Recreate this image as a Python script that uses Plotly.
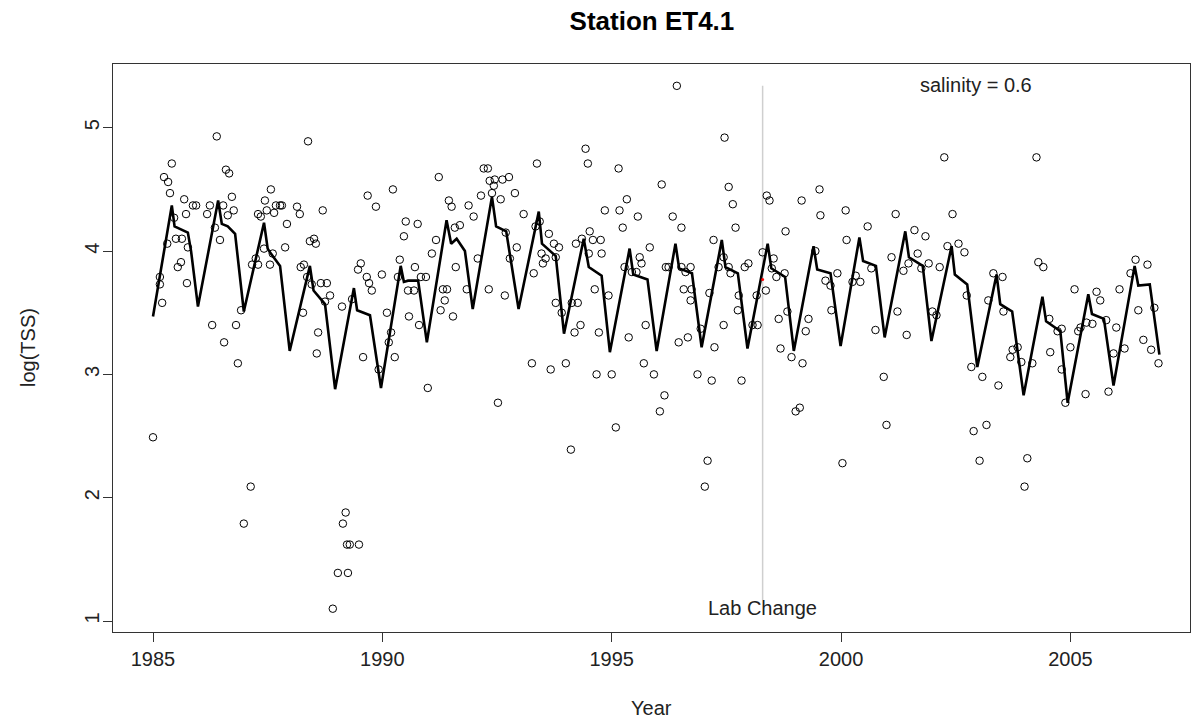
import plotly.graph_objects as go

# ---- observed log(TSS) samples ----
obs_year = [
 1985.00,1985.15,1985.15,1985.20,1985.24,1985.33,1985.37,1985.41,1985.31,1985.46,1985.50,1985.63,1985.54,1985.61,
 1985.68,1985.72,1985.74,1985.76,1985.87,1985.94,1986.18,1986.24,1986.29,1986.35,1986.39,1986.46,1986.53,1986.55,
 1986.59,1986.66,1986.63,1986.72,1986.76,1986.81,1986.92,1986.85,1986.98,1987.13,1987.16,1987.24,1987.29,1987.29,
 1987.35,1987.42,1987.44,1987.48,1987.55,1987.57,1987.61,1987.64,1987.68,1987.77,1987.81,1987.88,1987.92,1988.14,
 1988.20,1988.22,1988.38,1988.70,1988.42,1988.51,1988.55,1988.29,1988.36,1988.27,1988.46,1988.66,1988.79,1988.86,
 1988.75,1988.60,1988.57,1989.12,1989.53,1989.47,1989.66,1989.71,1989.77,1989.34,1989.68,1989.86,1990.23,1989.99,
 1990.10,1990.19,1990.14,1990.38,1990.34,1990.47,1990.51,1990.77,1990.71,1990.56,1990.69,1990.84,1990.95,1990.58,
 1990.80,1991.23,1991.08,1991.17,1991.27,1991.32,1991.41,1991.36,1991.54,1991.45,1991.51,1991.58,1991.69,1991.60,
 1991.88,1991.99,1991.84,1992.08,1992.15,1992.21,1989.58,1990.27,1989.92,1990.99,1989.20,1989.14,1989.23,1989.29,
 1989.49,1989.03,1989.25,1988.92,1992.30,1992.34,1992.45,1992.62,1992.76,1992.39,1992.43,1992.58,1992.89,1992.69,
 1992.78,1992.93,1992.32,1992.67,1993.08,1993.37,1993.43,1993.34,1993.63,1993.74,1993.85,1993.47,1993.50,1993.56,
 1993.78,1993.30,1993.78,1993.91,1994.13,1994.26,1994.32,1994.19,1994.72,1994.43,1994.48,1994.22,1994.35,1994.52,
 1994.59,1994.76,1994.50,1994.78,1994.63,1994.93,1995.15,1994.85,1995.17,1995.33,1995.24,1995.57,1995.83,1996.09,
 1995.28,1995.44,1995.54,1995.61,1995.65,1996.18,1995.74,1995.37,1992.52,1993.26,1993.67,1994.00,1994.11,1994.67,
 1995.00,1995.09,1995.70,1995.92,1996.15,1996.05,1996.42,1996.33,1996.52,1996.24,1996.52,1996.72,1996.61,1996.57,
 1996.74,1996.72,1997.46,1997.55,1997.64,1997.70,1997.22,1997.33,1997.44,1997.55,1997.59,1997.13,1997.90,1997.98,
 1997.77,1997.75,1998.16,1998.36,1998.07,1998.18,1997.44,1996.94,1996.46,1996.66,1997.24,1998.29,1998.38,1998.44,
 1998.53,1998.49,1998.59,1998.77,1998.79,1998.83,1998.64,1998.68,1999.14,1999.53,1999.55,1999.44,1999.66,1999.77,
 1999.92,1999.79,1999.29,1999.23,2000.10,2000.12,1996.87,1997.18,1997.83,1997.09,1997.03,1998.92,1999.16,1999.01,
 1999.10,2000.03,2002.25,2000.58,2000.32,2000.25,2000.42,2000.66,2001.19,2001.10,2001.36,2001.60,2001.84,2001.47,
 2001.67,2001.75,2001.91,2002.15,2001.23,2000.75,2001.43,2001.99,2002.08,2002.43,2002.32,2002.56,2002.69,2002.74,
 2003.32,2003.52,2003.21,2003.54,2003.74,2003.85,2000.93,2000.99,2002.84,2003.08,2003.43,2002.89,2003.17,2003.02,
 2003.69,2003.93,2004.06,2004.00,2004.26,2004.30,2004.41,2004.54,2004.72,2004.81,2005.00,2004.56,2005.09,2005.22,
 2005.35,2005.48,2005.17,2005.57,2005.65,2005.78,2006.00,2006.07,2006.18,2006.42,2006.31,2006.68,2006.48,2006.83,
 2006.59,2006.76,2004.17,2004.81,2004.89,2005.33,2005.94,2005.83,2006.92,
]
obs_value = [
 2.49,3.79,3.73,3.58,4.60,4.56,4.47,4.71,4.06,4.27,4.10,4.10,3.87,3.91,
 4.42,4.30,3.74,4.03,4.37,4.37,4.30,4.37,3.40,4.19,4.93,4.09,4.37,3.26,
 4.66,4.63,4.29,4.44,4.33,3.40,3.52,3.09,1.79,2.09,3.89,3.94,3.89,4.30,
 4.28,4.02,4.41,4.33,3.89,4.50,3.98,4.31,4.37,4.37,4.37,4.03,4.22,4.36,
 4.30,3.87,4.89,4.33,4.08,4.10,4.06,3.89,3.79,3.50,3.73,3.74,3.74,3.64,
 3.59,3.34,3.17,3.55,3.90,3.85,3.79,3.74,3.68,3.61,4.45,4.36,4.50,3.81,
 3.50,3.34,3.26,3.93,3.79,4.12,4.24,4.22,3.87,3.68,3.68,3.79,3.79,3.47,
 3.40,4.60,3.98,4.09,3.52,3.69,3.69,3.60,3.47,4.41,4.36,4.19,4.21,3.87,
 4.37,4.28,3.69,3.94,4.45,4.67,3.14,3.14,3.04,2.89,1.88,1.79,1.62,1.62,
 1.62,1.39,1.39,1.10,4.67,4.57,4.58,4.58,4.60,4.47,4.53,4.42,4.47,4.15,
 3.94,4.03,3.69,3.64,4.30,4.71,4.24,4.20,4.14,4.06,4.03,3.98,3.90,3.94,
 3.95,3.82,3.58,3.50,3.58,3.58,3.40,3.34,3.34,4.83,4.71,4.06,4.10,4.16,
 4.09,4.09,3.98,3.98,3.69,3.64,4.67,4.33,4.33,4.42,4.19,4.28,4.03,4.54,
 3.87,3.83,3.83,3.95,3.90,3.87,3.40,3.30,2.77,3.09,3.04,3.09,2.39,3.00,
 3.00,2.57,3.09,3.00,2.83,2.70,5.34,4.28,4.19,3.87,3.87,3.87,3.83,3.69,
 3.69,3.60,4.92,4.52,4.38,4.19,4.09,3.87,3.95,3.87,3.82,3.66,3.87,3.90,
 3.64,3.52,3.64,3.68,3.40,3.40,3.40,3.37,3.26,3.30,3.22,3.99,4.45,4.41,
 3.94,3.86,3.79,3.82,4.16,3.51,3.45,3.21,4.41,4.50,4.29,4.00,3.76,3.72,
 3.82,3.52,3.45,3.35,4.33,4.09,3.00,2.95,2.95,2.30,2.09,3.14,3.09,2.70,
 2.73,2.28,4.76,4.20,3.80,3.75,3.75,3.86,4.30,3.95,3.84,4.17,4.12,3.90,
 3.98,3.86,3.90,3.87,3.51,3.36,3.32,3.51,3.48,4.30,4.04,4.06,3.99,3.64,
 3.82,3.79,3.60,3.51,3.20,3.22,2.98,2.59,3.06,2.98,2.91,2.54,2.59,2.30,
 3.14,3.10,2.32,2.09,4.76,3.91,3.87,3.45,3.35,3.37,3.22,3.18,3.69,3.38,
 3.42,3.41,3.35,3.67,3.60,3.44,3.38,3.69,3.21,3.93,3.82,3.89,3.52,3.54,
 3.28,3.20,3.09,3.04,2.77,2.84,3.17,2.86,3.09,
]

# ---- fitted seasonal curve ----
fit_year = [
 1985.00,1985.41,1985.47,1985.59,1985.76,1985.83,1985.98,
 1986.42,1986.50,1986.63,1986.79,1986.98,
 1987.42,1987.50,1987.55,1987.77,1987.98,
 1988.42,1988.50,1988.75,1988.97,
 1989.38,1989.45,1989.73,1989.97,
 1990.40,1990.47,1990.56,1990.78,1990.97,
 1991.40,1991.50,1991.62,1991.80,1991.97,
 1992.39,1992.48,1992.70,1992.97,
 1993.41,1993.48,1993.78,1993.96,
 1994.39,1994.50,1994.78,1994.96,
 1995.39,1995.47,1995.78,1995.98,
 1996.39,1996.47,1996.75,1996.96,
 1997.40,1997.48,1997.75,1997.96,
 1998.40,1998.48,1998.78,1998.97,
 1999.40,1999.48,1999.77,1999.99,
 2000.40,2000.48,2000.76,2000.95,
 2001.40,2001.48,2001.78,2001.97,
 2002.41,2002.48,2002.75,2002.97,
 2003.39,2003.47,2003.73,2003.98,
 2004.39,2004.47,2004.78,2004.94,
 2005.39,2005.47,2005.73,2005.94,
 2006.40,2006.48,2006.73,2006.94,
]
fit_value = [
 3.47,4.37,4.20,4.18,4.15,4.00,3.55,
 4.41,4.22,4.20,4.14,3.51,
 4.23,4.02,3.99,3.88,3.19,
 3.88,3.68,3.57,2.88,
 3.70,3.52,3.48,2.89,
 3.88,3.75,3.76,3.76,3.26,
 4.25,4.06,4.10,4.00,3.53,
 4.44,4.20,4.16,3.53,
 4.32,4.06,3.96,3.33,
 4.10,3.87,3.80,3.18,
 4.02,3.81,3.77,3.19,
 4.06,3.86,3.82,3.22,
 4.09,3.87,3.82,3.21,
 4.06,3.86,3.79,3.19,
 4.04,3.85,3.82,3.23,
 4.11,3.92,3.88,3.30,
 4.16,3.95,3.88,3.27,
 4.04,3.81,3.73,3.06,
 3.81,3.57,3.51,2.83,
 3.63,3.43,3.35,2.77,
 3.65,3.49,3.45,2.91,
 3.88,3.72,3.73,3.16,
]

lab_change_year = 1998.29
lab_line_range = [1.17, 5.34]
red_mark = (1998.29, 3.77)

x_ticks = [1985, 1990, 1995, 2000, 2005]
y_ticks = [1, 2, 3, 4, 5]

FONT = "Liberation Sans, Arial, sans-serif"

fig = go.Figure()
fig.add_trace(go.Scatter(x=[lab_change_year, lab_change_year], y=lab_line_range, mode="lines",
                         line=dict(color="#cfcfcf", width=1.5), hoverinfo="skip", showlegend=False))
fig.add_trace(go.Scatter(x=obs_year, y=obs_value, mode="markers",
                         marker=dict(symbol="circle-open", size=7.5, color="black", line=dict(width=1)),
                         showlegend=False))
fig.add_trace(go.Scatter(x=fit_year, y=fit_value, mode="lines",
                         line=dict(color="black", width=2.6), showlegend=False))
fig.add_trace(go.Scatter(x=[red_mark[0]], y=[red_mark[1]], mode="markers",
                         marker=dict(color="red", size=3), showlegend=False))

fig.add_annotation(x=lab_change_year, y=1.105, text="Lab Change", showarrow=False,
                   font=dict(family=FONT, size=20, color="#222"), xanchor="center", yanchor="middle")
fig.add_annotation(x=2002.95, y=5.35, text="salinity = 0.6", showarrow=False,
                   font=dict(family=FONT, size=20, color="#222"), xanchor="center", yanchor="middle")
# axis titles placed like R's mtext lines
fig.add_annotation(xref="paper", yref="paper", x=0.5, y=0, yshift=-76, text="Year", showarrow=False,
                   font=dict(family=FONT, size=20, color="#222"), xanchor="center", yanchor="middle")
fig.add_annotation(xref="paper", yref="paper", x=0, y=0.5, xshift=-85, text="log(TSS)", showarrow=False,
                   textangle=-90, font=dict(family=FONT, size=20, color="#222"),
                   xanchor="center", yanchor="middle")

fig.update_layout(
    width=1193, height=719,
    margin=dict(l=113, r=3, t=64, b=87),
    paper_bgcolor="white", plot_bgcolor="white",
    font=dict(family=FONT, size=20, color="#222"),
    title=dict(text="<b>Station ET4.1</b>", x=0.5465, xanchor="center", y=1 - 21 / 719, yanchor="middle",
               font=dict(family=FONT, size=26, color="black")),
)
fig.update_xaxes(range=[1984.128, 2007.607], tickvals=x_ticks, ticktext=[str(v) for v in x_ticks],
                 ticks="outside", ticklen=9, tickcolor="#333", showgrid=False, zeroline=False,
                 showline=True, linecolor="#333", linewidth=1, mirror=True, automargin=False)
fig.update_yaxes(range=[0.911, 5.517], tickvals=y_ticks, ticktext=[str(v) for v in y_ticks],
                 ticks="outside", ticklen=9, tickcolor="#333", showgrid=False, zeroline=False,
                 showline=True, linecolor="#333", linewidth=1, mirror=True, tickangle=-90,
                 ticklabelstandoff=-4, automargin=False)

fig.write_html("out.html", config={"displayModeBar": False},
               post_script="document.body.style.margin='0px';document.body.style.overflow='hidden';")
